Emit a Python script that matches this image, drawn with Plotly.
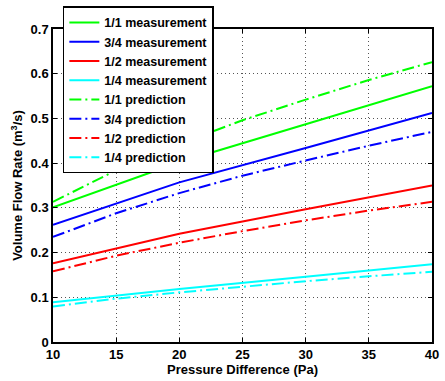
import plotly.graph_objects as go

pressure = [10, 20, 30, 40]
meas_1_1 = [0.301, 0.402, 0.487, 0.572]
meas_3_4 = [0.262, 0.357, 0.434, 0.512]
meas_1_2 = [0.176, 0.242, 0.297, 0.350]
meas_1_4 = [0.089, 0.1185, 0.146, 0.174]

pressure_pred = [10, 15, 20, 25, 30, 35, 40]
pred_1_1 = [0.3135, 0.384, 0.443, 0.496, 0.542, 0.586, 0.626]
pred_3_4 = [0.235, 0.288, 0.333, 0.372, 0.406, 0.439, 0.470]
pred_1_2 = [0.158, 0.193, 0.222, 0.248, 0.272, 0.294, 0.3135]
pred_1_4 = [0.0795, 0.097, 0.111, 0.124, 0.136, 0.147, 0.157]

colors = {"1/1": "#00ff00", "3/4": "#0000ff", "1/2": "#ff0000", "1/4": "#00ffff"}

fig = go.Figure()
for name, ys in [("1/1", meas_1_1), ("3/4", meas_3_4), ("1/2", meas_1_2), ("1/4", meas_1_4)]:
    fig.add_trace(go.Scatter(x=pressure, y=ys, mode="lines", name=f"{name} measurement",
                             line=dict(color=colors[name], width=2)))
for name, ys in [("1/1", pred_1_1), ("3/4", pred_3_4), ("1/2", pred_1_2), ("1/4", pred_1_4)]:
    fig.add_trace(go.Scatter(x=pressure_pred, y=ys, mode="lines", name=f"{name} prediction",
                             line=dict(color=colors[name], width=2, dash="12px,4px,2px,4px")))

fam = "Liberation Sans, Arial"
tickfont = dict(family=fam, size=13, color="black", weight="bold")
titlefont = dict(family=fam, size=13, color="black", weight="bold")
axis_common = dict(showline=True, linecolor="black", linewidth=1.5, mirror="ticks",
                   ticks="inside", ticklen=4, tickcolor="black",
                   showgrid=True, gridcolor="#555555", griddash="1px,3px", gridwidth=1,
                   zeroline=False, tickfont=tickfont)

fig.update_layout(
    width=445, height=381,
    margin=dict(l=53, r=6, t=25, b=39),
    paper_bgcolor="white", plot_bgcolor="white",
    font=tickfont,
    showlegend=True,
    legend=dict(x=0.026, y=1.072, xanchor="left", yanchor="top",
                bgcolor="white", bordercolor="black", borderwidth=1.5,
                font=dict(family=fam, size=12.5, color="black", weight="bold"),
                tracegroupgap=0, itemwidth=30),
    xaxis=dict(range=[10, 40], dtick=5, tick0=10,
               title=dict(text="Pressure Difference (Pa)", standoff=3, font=titlefont),
               **axis_common),
    yaxis=dict(range=[0, 0.7], dtick=0.1, tick0=0,
               title=dict(text="Volume Flow Rate (m<sup>3</sup>/s)", standoff=5, font=titlefont),
               **axis_common),
)

fig.write_html("out.html", config={"displayModeBar": False},
               post_script="document.body.style.margin='0';document.body.style.overflow='hidden';")
